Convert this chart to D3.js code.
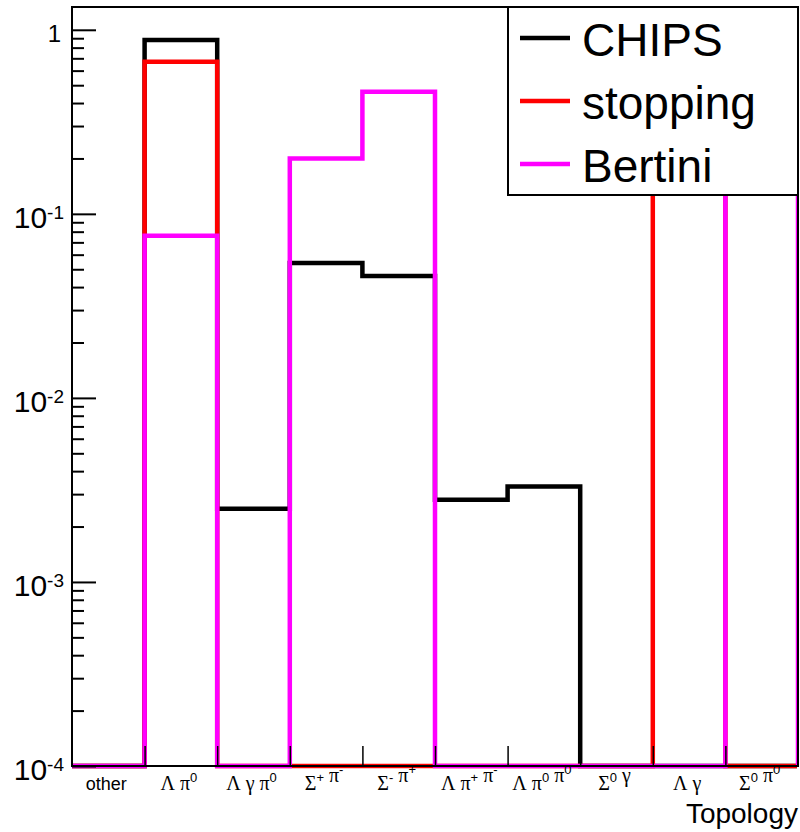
<!doctype html>
<html lang="en">
<head>
  <meta charset="utf-8">
  <title>topology</title>
  <style>
  body { margin: 0; background: #fff; }
  svg { display: block; }
  .hist { fill: none; stroke-width: 4.5; stroke-linejoin: miter; }
  </style>
</head>
<body>
<div id="chart"></div>
<script src="https://d3js.org/d3.v7.min.js"></script>
<script>

// ---------------- data
var topology = ["other", "Λ π^0", "Λ γ π^0", "Σ^+ π^-", "Σ^- π^+",
                "Λ π^+ π^-", "Λ π^0 π^0", "Σ^0 γ", "Λ γ", "Σ^0 π^0"];
var chips    = [0, 0.88, 0.0025, 0.054, 0.046, 0.0028, 0.0033, 0, 0, 0];
var stopping = [0, 0.67, 0, 0, 0, 0, 0, 0, 0.33, 0];
var bertini  = [0, 0.076, 0, 0.20, 0.46, 0, 0, 0, 0, 0.26];
var seriesNames  = ["CHIPS", "stopping", "Bertini"];
var seriesColors = ["#000000", "#ff0000", "#ff00ff"];
var decades = [1e-4, 1e-3, 1e-2, 1e-1, 1];
var decadeExp = [-4, -3, -2, -1, 0];

// ---------------- set up
var width = 800, height = 832;
var pL = 72, pR = 798, pT = 7, pB = 766;

var svg = d3.select("#chart").append("svg")
    .attr("width", width)
    .attr("height", height);

svg.append("clipPath").attr("id", "plotclip")
   .append("rect").attr("x", 0).attr("y", 0).attr("width", pR - 1).attr("height", height);

var x = d3.scaleLinear().domain([0, topology.length]).range([pL, pR]);
var y = d3.scaleLog().domain([1e-4, 1.33]).range([pB, pT]);

// ---------------- histograms
function steps(vals) {
  var pts = [[0, 1e-4]];
  vals.forEach(function(v, i) {
    var vv = Math.max(v, 1e-4);
    pts.push([i, vv]);
    pts.push([i + 1, vv]);
  });
  pts.push([vals.length, 1e-4]);
  return pts;
}
var line = d3.line().x(function(d){ return x(d[0]); }).y(function(d){ return y(d[1]); });

var hg = svg.append("g").attr("clip-path", "url(#plotclip)");
[chips, stopping, bertini].forEach(function(s, k) {
  hg.append("path")
     .attr("class", "hist")
     .attr("d", line(steps(s)))
     .style("stroke", seriesColors[k]);
});

// ---------------- axes
var minor = [];
decades.slice(0, -1).forEach(function(d) {
  for (var m = 2; m <= 9; m++) minor.push(d * m);
});
svg.append("g")
   .attr("transform", "translate(" + pL + ",0)")
   .call(d3.axisRight(y).tickValues(decades).tickSize(24).tickFormat(""))
   .call(function(g){ g.select(".domain").remove(); g.selectAll("line").attr("stroke-width", 2); });
svg.append("g")
   .attr("transform", "translate(" + pL + ",0)")
   .call(d3.axisRight(y).tickValues(minor).tickSize(12).tickFormat(""))
   .call(function(g){ g.select(".domain").remove(); g.selectAll("line").attr("stroke-width", 2); });

svg.append("g")
   .attr("transform", "translate(0," + pB + ")")
   .call(d3.axisTop(x).tickValues(d3.range(1, topology.length)).tickSize(20).tickFormat(""))
   .call(function(g){ g.select(".domain").remove(); g.selectAll("line").attr("stroke-width", 1.5); });

// frame
svg.append("rect")
   .attr("x", pL).attr("y", pT)
   .attr("width", pR - pL).attr("height", pB - pT)
   .attr("fill", "none").attr("stroke", "#000").attr("stroke-width", 2);

// y labels
decades.forEach(function(d, i) {
  var t = svg.append("text")
     .attr("x", i == 4 ? 61 : 64)
     .attr("y", y(d) + (i == 4 ? 12 : 14))
     .attr("text-anchor", "end")
     .attr("font-family", "Liberation Sans, Arial, sans-serif")
     .attr("fill", "#000");
  if (decadeExp[i] == 0) {
    t.attr("font-size", 24).text("1");
  } else {
    t.append("tspan").attr("font-size", 30).text("10");
    t.append("tspan").attr("font-size", 19).attr("dy", -9).text(String(decadeExp[i]));
  }
});

// x labels
topology.forEach(function(lab, i) {
  var t = svg.append("text")
     .attr("x", x(i + 0.5) - 2)
     .attr("y", 790)
     .attr("text-anchor", "middle")
     .attr("fill", "#000");
  if (lab == "other") {
    t.attr("font-family", "Liberation Sans, Arial, sans-serif").attr("font-size", 18).text(lab);
    return;
  }
  t.attr("font-family", "Liberation Serif, Times New Roman, serif").attr("font-size", 20);
  lab.split(" ").forEach(function(part, j) {
    var base = part.split("^")[0], sup = part.split("^")[1];
    t.append("tspan").text((j > 0 ? "\u00a0" : "") + base);
    if (sup) {
      t.append("tspan")
       .attr("font-family", "Liberation Sans, Arial, sans-serif")
       .attr("font-size", 13).attr("dy", -8).text(sup);
      t.append("tspan").attr("font-size", 13).attr("dy", 8).text("");
    }
  });
});

svg.append("text")
   .attr("x", 798).attr("y", 823)
   .attr("text-anchor", "end")
   .attr("font-family", "Liberation Sans, Arial, sans-serif")
   .attr("font-size", 28)
   .text("Topology");

// ---------------- legend
var legend = svg.append("g");
legend.append("rect")
   .attr("x", 508).attr("y", 7).attr("width", 290).attr("height", 188)
   .attr("fill", "#fff").attr("stroke", "#000").attr("stroke-width", 2);
seriesNames.forEach(function(n, i) {
  var ly = 38 + i * 63;
  legend.append("line")
     .attr("x1", 520).attr("x2", 570).attr("y1", ly).attr("y2", ly)
     .attr("stroke", seriesColors[i]).attr("stroke-width", 4.5);
  legend.append("text")
     .attr("x", 582).attr("y", ly + 18)
     .attr("font-family", "Liberation Sans, Arial, sans-serif")
     .attr("font-size", 46)
     .text(n);
});

</script>
</body>
</html>
